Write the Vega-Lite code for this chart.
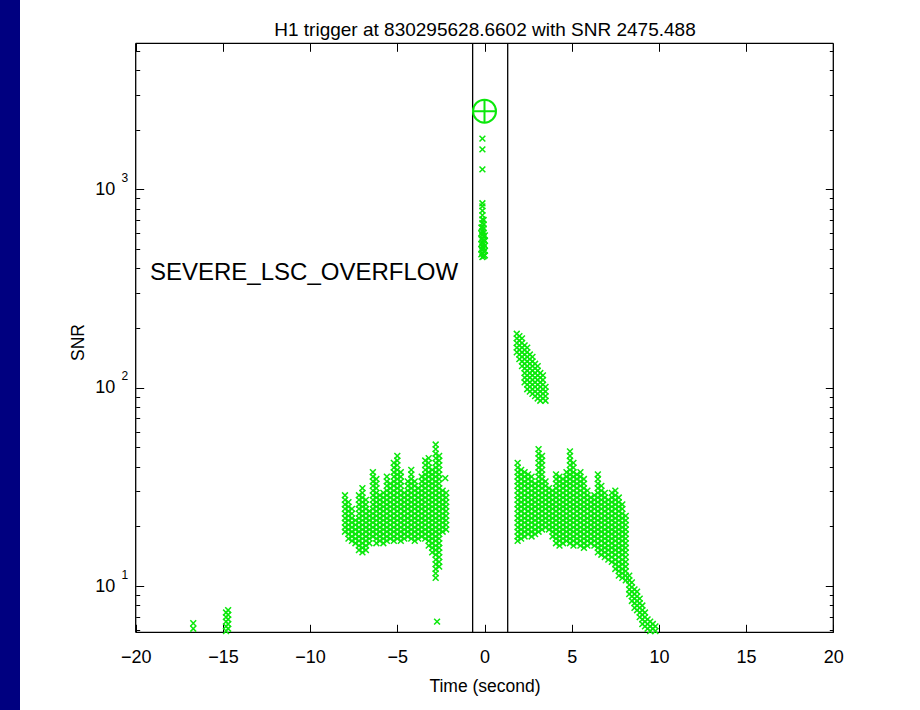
{
  "$schema": "https://vega.github.io/schema/vega-lite/v6.json",
  "width": 900,
  "height": 710,
  "autosize": {"type": "none"},
  "padding": {"left": 20, "top": 0, "right": 0, "bottom": 0},
  "background": "#000080",
  "view": {"fill": "white", "stroke": null},
  "config": {
    "font": "Liberation Sans",
    "axis": {"grid": false, "domain": false, "tickColor": "#000", "labelColor": "#000", "titleColor": "#000", "titleFontWeight": "normal", "labelFontSize": 18, "titleFontSize": 17.5, "tickWidth": 1, "labelFlush": false, "labelOverlap": false}
  },
  "datasets": {
    "pts": [
      {"t":-0.12,"snr":455},{"t":-0.12,"snr":475},{"t":-0.12,"snr":495},{"t":-0.12,"snr":515},{"t":-0.12,"snr":540},{"t":-0.12,"snr":565},{"t":-0.12,"snr":590},{"t":-0.12,"snr":615},{"t":-0.12,"snr":645},{"t":-0.12,"snr":675},{"t":-0.12,"snr":705},{"t":-0.12,"snr":740},{"t":-0.12,"snr":780},{"t":-0.12,"snr":820},{"t":-0.12,"snr":850},
      {"t":-0.05,"snr":460},{"t":-0.05,"snr":485},{"t":-0.05,"snr":505},{"t":-0.05,"snr":530},{"t":-0.05,"snr":555},{"t":-0.05,"snr":580},{"t":-0.05,"snr":605},{"t":-0.05,"snr":635},{"t":-0.05,"snr":665},{"t":-0.05,"snr":700},
      {"t":-0.18,"snr":470},{"t":-0.18,"snr":500},{"t":-0.18,"snr":530},{"t":-0.18,"snr":560},{"t":-0.18,"snr":600},{"t":-0.18,"snr":640},
      {"t":0.02,"snr":465},{"t":0.02,"snr":490},{"t":0.02,"snr":520},{"t":0.02,"snr":550},{"t":0.02,"snr":585},
      {"t":-0.12,"snr":1260},{"t":-0.12,"snr":1590},{"t":-0.12,"snr":1800},
      {"t":-14.82,"snr":5.94},{"t":-14.82,"snr":6.27},{"t":-14.82,"snr":6.62},{"t":-14.82,"snr":6.98},{"t":-14.82,"snr":7.36},
      {"t":-14.7,"snr":6.1},{"t":-14.7,"snr":6.44},{"t":-14.7,"snr":6.8},{"t":-14.7,"snr":7.17},{"t":-14.7,"snr":7.56},
      {"t":-16.7,"snr":6.1},{"t":-16.7,"snr":6.5},
      {"t":-2.72,"snr":6.62},{"t":-2.25,"snr":35.0},
      {"t":-8.0,"snr":18.8},{"t":-8.0,"snr":19.8},{"t":-8.0,"snr":20.9},{"t":-8.0,"snr":22.0},{"t":-8.0,"snr":23.2},{"t":-8.0,"snr":24.5},{"t":-8.0,"snr":25.8},{"t":-8.0,"snr":27.2},{"t":-8.0,"snr":28.7},
      {"t":-7.8,"snr":17.35},{"t":-7.8,"snr":18.3},{"t":-7.8,"snr":19.3},{"t":-7.8,"snr":20.35},{"t":-7.8,"snr":21.45},{"t":-7.8,"snr":22.6},{"t":-7.8,"snr":23.85},{"t":-7.8,"snr":25.15},{"t":-7.8,"snr":26.5},
      {"t":-7.6,"snr":16.9},{"t":-7.6,"snr":17.8},{"t":-7.6,"snr":18.8},{"t":-7.6,"snr":19.8},{"t":-7.6,"snr":20.9},{"t":-7.6,"snr":22.0},{"t":-7.6,"snr":23.2},{"t":-7.6,"snr":24.5},
      {"t":-7.4,"snr":16.45},{"t":-7.4,"snr":17.35},{"t":-7.4,"snr":18.3},{"t":-7.4,"snr":19.3},{"t":-7.4,"snr":20.35},{"t":-7.4,"snr":21.45},
      {"t":-7.2,"snr":15.2},{"t":-7.2,"snr":16.0},{"t":-7.2,"snr":16.9},{"t":-7.2,"snr":17.8},{"t":-7.2,"snr":18.8},{"t":-7.2,"snr":19.8},{"t":-7.2,"snr":20.9},{"t":-7.2,"snr":22.0},{"t":-7.2,"snr":23.2},{"t":-7.2,"snr":24.5},{"t":-7.2,"snr":25.8},{"t":-7.2,"snr":27.2},{"t":-7.2,"snr":28.7},
      {"t":-7.0,"snr":14.8},{"t":-7.0,"snr":15.6},{"t":-7.0,"snr":16.45},{"t":-7.0,"snr":17.35},{"t":-7.0,"snr":18.3},{"t":-7.0,"snr":19.3},{"t":-7.0,"snr":20.35},{"t":-7.0,"snr":21.45},{"t":-7.0,"snr":22.6},{"t":-7.0,"snr":23.85},{"t":-7.0,"snr":25.15},{"t":-7.0,"snr":26.5},{"t":-7.0,"snr":27.95},{"t":-7.0,"snr":29.5},{"t":-7.0,"snr":31.15},
      {"t":-6.8,"snr":15.2},{"t":-6.8,"snr":16.0},{"t":-6.8,"snr":16.9},{"t":-6.8,"snr":17.8},{"t":-6.8,"snr":18.8},{"t":-6.8,"snr":19.8},{"t":-6.8,"snr":20.9},{"t":-6.8,"snr":22.0},{"t":-6.8,"snr":23.2},{"t":-6.8,"snr":24.5},{"t":-6.8,"snr":25.8},{"t":-6.8,"snr":27.2},
      {"t":-6.6,"snr":16.45},{"t":-6.6,"snr":17.35},{"t":-6.6,"snr":18.3},{"t":-6.6,"snr":19.3},{"t":-6.6,"snr":20.35},{"t":-6.6,"snr":21.45},{"t":-6.6,"snr":22.6},{"t":-6.6,"snr":23.85},
      {"t":-6.4,"snr":17.8},{"t":-6.4,"snr":18.8},{"t":-6.4,"snr":19.8},{"t":-6.4,"snr":20.9},{"t":-6.4,"snr":22.0},{"t":-6.4,"snr":23.2},{"t":-6.4,"snr":24.5},{"t":-6.4,"snr":25.8},{"t":-6.4,"snr":27.2},{"t":-6.4,"snr":28.7},{"t":-6.4,"snr":30.3},{"t":-6.4,"snr":32.0},{"t":-6.4,"snr":33.7},{"t":-6.4,"snr":35.6},{"t":-6.4,"snr":37.5},
      {"t":-6.2,"snr":16.45},{"t":-6.2,"snr":17.35},{"t":-6.2,"snr":18.3},{"t":-6.2,"snr":19.3},{"t":-6.2,"snr":20.35},{"t":-6.2,"snr":21.45},{"t":-6.2,"snr":22.6},{"t":-6.2,"snr":23.85},{"t":-6.2,"snr":25.15},{"t":-6.2,"snr":26.5},{"t":-6.2,"snr":27.95},{"t":-6.2,"snr":29.5},{"t":-6.2,"snr":31.15},{"t":-6.2,"snr":32.85},{"t":-6.2,"snr":34.65},
      {"t":-6.0,"snr":16.9},{"t":-6.0,"snr":17.8},{"t":-6.0,"snr":18.8},{"t":-6.0,"snr":19.8},{"t":-6.0,"snr":20.9},{"t":-6.0,"snr":22.0},{"t":-6.0,"snr":23.2},{"t":-6.0,"snr":24.5},{"t":-6.0,"snr":25.8},{"t":-6.0,"snr":27.2},{"t":-6.0,"snr":28.7},
      {"t":-5.8,"snr":16.45},{"t":-5.8,"snr":17.35},{"t":-5.8,"snr":18.3},{"t":-5.8,"snr":19.3},{"t":-5.8,"snr":20.35},{"t":-5.8,"snr":21.45},{"t":-5.8,"snr":22.6},{"t":-5.8,"snr":23.85},{"t":-5.8,"snr":25.15},{"t":-5.8,"snr":26.5},{"t":-5.8,"snr":27.95},{"t":-5.8,"snr":29.5},
      {"t":-5.6,"snr":16.9},{"t":-5.6,"snr":17.8},{"t":-5.6,"snr":18.8},{"t":-5.6,"snr":19.8},{"t":-5.6,"snr":20.9},{"t":-5.6,"snr":22.0},{"t":-5.6,"snr":23.2},{"t":-5.6,"snr":24.5},{"t":-5.6,"snr":25.8},{"t":-5.6,"snr":27.2},{"t":-5.6,"snr":28.7},{"t":-5.6,"snr":30.3},{"t":-5.6,"snr":32.0},{"t":-5.6,"snr":33.7},{"t":-5.6,"snr":35.6},
      {"t":-5.4,"snr":17.35},{"t":-5.4,"snr":18.3},{"t":-5.4,"snr":19.3},{"t":-5.4,"snr":20.35},{"t":-5.4,"snr":21.45},{"t":-5.4,"snr":22.6},{"t":-5.4,"snr":23.85},{"t":-5.4,"snr":25.15},{"t":-5.4,"snr":26.5},{"t":-5.4,"snr":27.95},{"t":-5.4,"snr":29.5},{"t":-5.4,"snr":31.15},{"t":-5.4,"snr":32.85},
      {"t":-5.2,"snr":16.9},{"t":-5.2,"snr":17.8},{"t":-5.2,"snr":18.8},{"t":-5.2,"snr":19.8},{"t":-5.2,"snr":20.9},{"t":-5.2,"snr":22.0},{"t":-5.2,"snr":23.2},{"t":-5.2,"snr":24.5},{"t":-5.2,"snr":25.8},{"t":-5.2,"snr":27.2},{"t":-5.2,"snr":28.7},{"t":-5.2,"snr":30.3},{"t":-5.2,"snr":32.0},{"t":-5.2,"snr":33.7},{"t":-5.2,"snr":35.6},{"t":-5.2,"snr":37.5},{"t":-5.2,"snr":39.6},{"t":-5.2,"snr":41.8},
      {"t":-5.0,"snr":17.35},{"t":-5.0,"snr":18.3},{"t":-5.0,"snr":19.3},{"t":-5.0,"snr":20.35},{"t":-5.0,"snr":21.45},{"t":-5.0,"snr":22.6},{"t":-5.0,"snr":23.85},{"t":-5.0,"snr":25.15},{"t":-5.0,"snr":26.5},{"t":-5.0,"snr":27.95},{"t":-5.0,"snr":29.5},{"t":-5.0,"snr":31.15},{"t":-5.0,"snr":32.85},{"t":-5.0,"snr":34.65},{"t":-5.0,"snr":36.55},{"t":-5.0,"snr":38.55},{"t":-5.0,"snr":40.7},{"t":-5.0,"snr":42.95},{"t":-5.0,"snr":45.3},
      {"t":-4.8,"snr":16.9},{"t":-4.8,"snr":17.8},{"t":-4.8,"snr":18.8},{"t":-4.8,"snr":19.8},{"t":-4.8,"snr":20.9},{"t":-4.8,"snr":22.0},{"t":-4.8,"snr":23.2},{"t":-4.8,"snr":24.5},{"t":-4.8,"snr":25.8},{"t":-4.8,"snr":27.2},{"t":-4.8,"snr":28.7},{"t":-4.8,"snr":30.3},{"t":-4.8,"snr":32.0},{"t":-4.8,"snr":33.7},{"t":-4.8,"snr":35.6},{"t":-4.8,"snr":37.5},
      {"t":-4.6,"snr":17.35},{"t":-4.6,"snr":18.3},{"t":-4.6,"snr":19.3},{"t":-4.6,"snr":20.35},{"t":-4.6,"snr":21.45},{"t":-4.6,"snr":22.6},{"t":-4.6,"snr":23.85},{"t":-4.6,"snr":25.15},{"t":-4.6,"snr":26.5},{"t":-4.6,"snr":27.95},{"t":-4.6,"snr":29.5},
      {"t":-4.4,"snr":17.8},{"t":-4.4,"snr":18.8},{"t":-4.4,"snr":19.8},{"t":-4.4,"snr":20.9},{"t":-4.4,"snr":22.0},{"t":-4.4,"snr":23.2},{"t":-4.4,"snr":24.5},{"t":-4.4,"snr":25.8},{"t":-4.4,"snr":27.2},{"t":-4.4,"snr":28.7},{"t":-4.4,"snr":30.3},{"t":-4.4,"snr":32.0},{"t":-4.4,"snr":33.7},
      {"t":-4.2,"snr":17.35},{"t":-4.2,"snr":18.3},{"t":-4.2,"snr":19.3},{"t":-4.2,"snr":20.35},{"t":-4.2,"snr":21.45},{"t":-4.2,"snr":22.6},{"t":-4.2,"snr":23.85},{"t":-4.2,"snr":25.15},{"t":-4.2,"snr":26.5},{"t":-4.2,"snr":27.95},{"t":-4.2,"snr":29.5},{"t":-4.2,"snr":31.15},{"t":-4.2,"snr":32.85},{"t":-4.2,"snr":34.65},{"t":-4.2,"snr":36.55},{"t":-4.2,"snr":38.55},
      {"t":-4.0,"snr":16.9},{"t":-4.0,"snr":17.8},{"t":-4.0,"snr":18.8},{"t":-4.0,"snr":19.8},{"t":-4.0,"snr":20.9},{"t":-4.0,"snr":22.0},{"t":-4.0,"snr":23.2},{"t":-4.0,"snr":24.5},{"t":-4.0,"snr":25.8},{"t":-4.0,"snr":27.2},{"t":-4.0,"snr":28.7},{"t":-4.0,"snr":30.3},{"t":-4.0,"snr":32.0},{"t":-4.0,"snr":33.7},
      {"t":-3.8,"snr":17.35},{"t":-3.8,"snr":18.3},{"t":-3.8,"snr":19.3},{"t":-3.8,"snr":20.35},{"t":-3.8,"snr":21.45},{"t":-3.8,"snr":22.6},{"t":-3.8,"snr":23.85},{"t":-3.8,"snr":25.15},{"t":-3.8,"snr":26.5},{"t":-3.8,"snr":27.95},{"t":-3.8,"snr":29.5},{"t":-3.8,"snr":31.15},
      {"t":-3.6,"snr":17.8},{"t":-3.6,"snr":18.8},{"t":-3.6,"snr":19.8},{"t":-3.6,"snr":20.9},{"t":-3.6,"snr":22.0},{"t":-3.6,"snr":23.2},{"t":-3.6,"snr":24.5},{"t":-3.6,"snr":25.8},{"t":-3.6,"snr":27.2},{"t":-3.6,"snr":28.7},{"t":-3.6,"snr":30.3},{"t":-3.6,"snr":32.0},{"t":-3.6,"snr":33.7},{"t":-3.6,"snr":35.6},
      {"t":-3.4,"snr":17.35},{"t":-3.4,"snr":18.3},{"t":-3.4,"snr":19.3},{"t":-3.4,"snr":20.35},{"t":-3.4,"snr":21.45},{"t":-3.4,"snr":22.6},{"t":-3.4,"snr":23.85},{"t":-3.4,"snr":25.15},{"t":-3.4,"snr":26.5},{"t":-3.4,"snr":27.95},{"t":-3.4,"snr":29.5},{"t":-3.4,"snr":31.15},{"t":-3.4,"snr":32.85},{"t":-3.4,"snr":34.65},{"t":-3.4,"snr":36.55},{"t":-3.4,"snr":38.55},{"t":-3.4,"snr":40.7},{"t":-3.4,"snr":42.95},
      {"t":-3.2,"snr":16.0},{"t":-3.2,"snr":16.9},{"t":-3.2,"snr":17.8},{"t":-3.2,"snr":18.8},{"t":-3.2,"snr":19.8},{"t":-3.2,"snr":20.9},{"t":-3.2,"snr":22.0},{"t":-3.2,"snr":23.2},{"t":-3.2,"snr":24.5},{"t":-3.2,"snr":25.8},{"t":-3.2,"snr":27.2},{"t":-3.2,"snr":28.7},{"t":-3.2,"snr":30.3},{"t":-3.2,"snr":32.0},{"t":-3.2,"snr":33.7},{"t":-3.2,"snr":35.6},{"t":-3.2,"snr":37.5},{"t":-3.2,"snr":39.6},{"t":-3.2,"snr":41.8},{"t":-3.2,"snr":44.1},
      {"t":-3.0,"snr":14.8},{"t":-3.0,"snr":15.6},{"t":-3.0,"snr":16.45},{"t":-3.0,"snr":17.35},{"t":-3.0,"snr":18.3},{"t":-3.0,"snr":19.3},{"t":-3.0,"snr":20.35},{"t":-3.0,"snr":21.45},{"t":-3.0,"snr":22.6},{"t":-3.0,"snr":23.85},{"t":-3.0,"snr":25.15},{"t":-3.0,"snr":26.5},{"t":-3.0,"snr":27.95},{"t":-3.0,"snr":29.5},{"t":-3.0,"snr":31.15},{"t":-3.0,"snr":32.85},{"t":-3.0,"snr":34.65},{"t":-3.0,"snr":36.55},{"t":-3.0,"snr":38.55},
      {"t":-2.8,"snr":11.0},{"t":-2.8,"snr":11.6},{"t":-2.8,"snr":12.2},{"t":-2.8,"snr":12.9},{"t":-2.8,"snr":13.6},{"t":-2.8,"snr":14.4},{"t":-2.8,"snr":15.2},{"t":-2.8,"snr":16.0},{"t":-2.8,"snr":16.9},{"t":-2.8,"snr":17.8},{"t":-2.8,"snr":18.8},{"t":-2.8,"snr":19.8},{"t":-2.8,"snr":20.9},{"t":-2.8,"snr":22.0},{"t":-2.8,"snr":23.2},{"t":-2.8,"snr":24.5},{"t":-2.8,"snr":25.8},{"t":-2.8,"snr":27.2},{"t":-2.8,"snr":28.7},{"t":-2.8,"snr":30.3},{"t":-2.8,"snr":32.0},{"t":-2.8,"snr":33.7},{"t":-2.8,"snr":35.6},{"t":-2.8,"snr":37.5},{"t":-2.8,"snr":39.6},{"t":-2.8,"snr":41.8},{"t":-2.8,"snr":44.1},{"t":-2.8,"snr":46.5},{"t":-2.8,"snr":49.0},{"t":-2.8,"snr":51.7},
      {"t":-2.6,"snr":12.55},{"t":-2.6,"snr":13.25},{"t":-2.6,"snr":14.0},{"t":-2.6,"snr":14.8},{"t":-2.6,"snr":15.6},{"t":-2.6,"snr":16.45},{"t":-2.6,"snr":17.35},{"t":-2.6,"snr":18.3},{"t":-2.6,"snr":19.3},{"t":-2.6,"snr":20.35},{"t":-2.6,"snr":21.45},{"t":-2.6,"snr":22.6},{"t":-2.6,"snr":23.85},{"t":-2.6,"snr":25.15},{"t":-2.6,"snr":26.5},{"t":-2.6,"snr":27.95},{"t":-2.6,"snr":29.5},{"t":-2.6,"snr":31.15},{"t":-2.6,"snr":32.85},{"t":-2.6,"snr":34.65},{"t":-2.6,"snr":36.55},{"t":-2.6,"snr":38.55},{"t":-2.6,"snr":40.7},{"t":-2.6,"snr":42.95},{"t":-2.6,"snr":45.3},
      {"t":-2.4,"snr":18.8},{"t":-2.4,"snr":19.8},{"t":-2.4,"snr":20.9},{"t":-2.4,"snr":22.0},{"t":-2.4,"snr":23.2},{"t":-2.4,"snr":24.5},{"t":-2.4,"snr":25.8},{"t":-2.4,"snr":27.2},{"t":-2.4,"snr":28.7},{"t":-2.4,"snr":30.3},
      {"t":-2.2,"snr":19.3},{"t":-2.2,"snr":20.35},{"t":-2.2,"snr":21.45},{"t":-2.2,"snr":22.6},{"t":-2.2,"snr":23.85},{"t":-2.2,"snr":25.15},{"t":-2.2,"snr":26.5},{"t":-2.2,"snr":27.95},{"t":-2.2,"snr":29.5},
      {"t":1.85,"snr":150.9},{"t":1.85,"snr":159.2},{"t":1.85,"snr":168},{"t":1.85,"snr":177.2},{"t":1.85,"snr":187},
      {"t":2.0,"snr":139.3},{"t":2.0,"snr":147},{"t":2.0,"snr":155},{"t":2.0,"snr":163.5},{"t":2.0,"snr":172.5},{"t":2.0,"snr":182},
      {"t":2.15,"snr":128.5},{"t":2.15,"snr":135.6},{"t":2.15,"snr":143},{"t":2.15,"snr":150.9},{"t":2.15,"snr":159.2},{"t":2.15,"snr":168},{"t":2.15,"snr":177.2},
      {"t":2.3,"snr":106.5},{"t":2.3,"snr":112.4},{"t":2.3,"snr":118.6},{"t":2.3,"snr":125.1},{"t":2.3,"snr":132},{"t":2.3,"snr":139.3},{"t":2.3,"snr":147},{"t":2.3,"snr":155},{"t":2.3,"snr":163.5},
      {"t":2.45,"snr":98.3},{"t":2.45,"snr":103.7},{"t":2.45,"snr":109.4},{"t":2.45,"snr":115.4},{"t":2.45,"snr":121.8},{"t":2.45,"snr":128.5},{"t":2.45,"snr":135.6},{"t":2.45,"snr":143},{"t":2.45,"snr":150.9},{"t":2.45,"snr":159.2},
      {"t":2.6,"snr":95.7},{"t":2.6,"snr":101},{"t":2.6,"snr":106.5},{"t":2.6,"snr":112.4},{"t":2.6,"snr":118.6},{"t":2.6,"snr":125.1},{"t":2.6,"snr":132},{"t":2.6,"snr":139.3},{"t":2.6,"snr":147},
      {"t":2.75,"snr":93.2},{"t":2.75,"snr":98.3},{"t":2.75,"snr":103.7},{"t":2.75,"snr":109.4},{"t":2.75,"snr":115.4},{"t":2.75,"snr":121.8},{"t":2.75,"snr":128.5},{"t":2.75,"snr":135.6},{"t":2.75,"snr":143},
      {"t":2.9,"snr":90.7},{"t":2.9,"snr":95.7},{"t":2.9,"snr":101},{"t":2.9,"snr":106.5},{"t":2.9,"snr":112.4},{"t":2.9,"snr":118.6},{"t":2.9,"snr":125.1},{"t":2.9,"snr":132},
      {"t":3.05,"snr":88.3},{"t":3.05,"snr":93.2},{"t":3.05,"snr":98.3},{"t":3.05,"snr":103.7},{"t":3.05,"snr":109.4},{"t":3.05,"snr":115.4},{"t":3.05,"snr":121.8},{"t":3.05,"snr":128.5},
      {"t":3.2,"snr":86},{"t":3.2,"snr":90.7},{"t":3.2,"snr":95.7},{"t":3.2,"snr":101},{"t":3.2,"snr":106.5},{"t":3.2,"snr":112.4},{"t":3.2,"snr":118.6},
      {"t":3.35,"snr":88.3},{"t":3.35,"snr":93.2},{"t":3.35,"snr":98.3},{"t":3.35,"snr":103.7},{"t":3.35,"snr":109.4},{"t":3.35,"snr":115.4},
      {"t":3.5,"snr":86},{"t":3.5,"snr":90.7},{"t":3.5,"snr":95.7},{"t":3.5,"snr":101},
      {"t":1.9,"snr":16.9},{"t":1.9,"snr":17.8},{"t":1.9,"snr":18.8},{"t":1.9,"snr":19.8},{"t":1.9,"snr":20.9},{"t":1.9,"snr":22.0},{"t":1.9,"snr":23.2},{"t":1.9,"snr":24.5},{"t":1.9,"snr":25.8},{"t":1.9,"snr":27.2},{"t":1.9,"snr":28.7},{"t":1.9,"snr":30.3},{"t":1.9,"snr":32.0},{"t":1.9,"snr":33.7},{"t":1.9,"snr":35.6},{"t":1.9,"snr":37.5},{"t":1.9,"snr":39.6},{"t":1.9,"snr":41.8},
      {"t":2.1,"snr":17.35},{"t":2.1,"snr":18.3},{"t":2.1,"snr":19.3},{"t":2.1,"snr":20.35},{"t":2.1,"snr":21.45},{"t":2.1,"snr":22.6},{"t":2.1,"snr":23.85},{"t":2.1,"snr":25.15},{"t":2.1,"snr":26.5},{"t":2.1,"snr":27.95},{"t":2.1,"snr":29.5},{"t":2.1,"snr":31.15},{"t":2.1,"snr":32.85},{"t":2.1,"snr":34.65},{"t":2.1,"snr":36.55},{"t":2.1,"snr":38.55},
      {"t":2.3,"snr":17.8},{"t":2.3,"snr":18.8},{"t":2.3,"snr":19.8},{"t":2.3,"snr":20.9},{"t":2.3,"snr":22.0},{"t":2.3,"snr":23.2},{"t":2.3,"snr":24.5},{"t":2.3,"snr":25.8},{"t":2.3,"snr":27.2},{"t":2.3,"snr":28.7},{"t":2.3,"snr":30.3},{"t":2.3,"snr":32.0},{"t":2.3,"snr":33.7},{"t":2.3,"snr":35.6},{"t":2.3,"snr":37.5},
      {"t":2.5,"snr":18.3},{"t":2.5,"snr":19.3},{"t":2.5,"snr":20.35},{"t":2.5,"snr":21.45},{"t":2.5,"snr":22.6},{"t":2.5,"snr":23.85},{"t":2.5,"snr":25.15},{"t":2.5,"snr":26.5},{"t":2.5,"snr":27.95},{"t":2.5,"snr":29.5},{"t":2.5,"snr":31.15},{"t":2.5,"snr":32.85},{"t":2.5,"snr":34.65},{"t":2.5,"snr":36.55},
      {"t":2.7,"snr":17.8},{"t":2.7,"snr":18.8},{"t":2.7,"snr":19.8},{"t":2.7,"snr":20.9},{"t":2.7,"snr":22.0},{"t":2.7,"snr":23.2},{"t":2.7,"snr":24.5},{"t":2.7,"snr":25.8},{"t":2.7,"snr":27.2},{"t":2.7,"snr":28.7},{"t":2.7,"snr":30.3},{"t":2.7,"snr":32.0},{"t":2.7,"snr":33.7},{"t":2.7,"snr":35.6},
      {"t":2.9,"snr":18.3},{"t":2.9,"snr":19.3},{"t":2.9,"snr":20.35},{"t":2.9,"snr":21.45},{"t":2.9,"snr":22.6},{"t":2.9,"snr":23.85},{"t":2.9,"snr":25.15},{"t":2.9,"snr":26.5},{"t":2.9,"snr":27.95},{"t":2.9,"snr":29.5},{"t":2.9,"snr":31.15},{"t":2.9,"snr":32.85},
      {"t":3.1,"snr":18.8},{"t":3.1,"snr":19.8},{"t":3.1,"snr":20.9},{"t":3.1,"snr":22.0},{"t":3.1,"snr":23.2},{"t":3.1,"snr":24.5},{"t":3.1,"snr":25.8},{"t":3.1,"snr":27.2},{"t":3.1,"snr":28.7},{"t":3.1,"snr":30.3},{"t":3.1,"snr":32.0},{"t":3.1,"snr":33.7},{"t":3.1,"snr":35.6},{"t":3.1,"snr":37.5},{"t":3.1,"snr":39.6},{"t":3.1,"snr":41.8},{"t":3.1,"snr":44.1},{"t":3.1,"snr":46.5},{"t":3.1,"snr":49.0},
      {"t":3.3,"snr":19.3},{"t":3.3,"snr":20.35},{"t":3.3,"snr":21.45},{"t":3.3,"snr":22.6},{"t":3.3,"snr":23.85},{"t":3.3,"snr":25.15},{"t":3.3,"snr":26.5},{"t":3.3,"snr":27.95},{"t":3.3,"snr":29.5},{"t":3.3,"snr":31.15},{"t":3.3,"snr":32.85},{"t":3.3,"snr":34.65},{"t":3.3,"snr":36.55},{"t":3.3,"snr":38.55},{"t":3.3,"snr":40.7},{"t":3.3,"snr":42.95},{"t":3.3,"snr":45.3},
      {"t":3.5,"snr":19.8},{"t":3.5,"snr":20.9},{"t":3.5,"snr":22.0},{"t":3.5,"snr":23.2},{"t":3.5,"snr":24.5},{"t":3.5,"snr":25.8},{"t":3.5,"snr":27.2},{"t":3.5,"snr":28.7},{"t":3.5,"snr":30.3},{"t":3.5,"snr":32.0},{"t":3.5,"snr":33.7},
      {"t":3.7,"snr":19.3},{"t":3.7,"snr":20.35},{"t":3.7,"snr":21.45},{"t":3.7,"snr":22.6},{"t":3.7,"snr":23.85},{"t":3.7,"snr":25.15},{"t":3.7,"snr":26.5},{"t":3.7,"snr":27.95},{"t":3.7,"snr":29.5},{"t":3.7,"snr":31.15},
      {"t":3.9,"snr":17.8},{"t":3.9,"snr":18.8},{"t":3.9,"snr":19.8},{"t":3.9,"snr":20.9},{"t":3.9,"snr":22.0},{"t":3.9,"snr":23.2},{"t":3.9,"snr":24.5},{"t":3.9,"snr":25.8},{"t":3.9,"snr":27.2},{"t":3.9,"snr":28.7},{"t":3.9,"snr":30.3},
      {"t":4.1,"snr":16.45},{"t":4.1,"snr":17.35},{"t":4.1,"snr":18.3},{"t":4.1,"snr":19.3},{"t":4.1,"snr":20.35},{"t":4.1,"snr":21.45},{"t":4.1,"snr":22.6},{"t":4.1,"snr":23.85},{"t":4.1,"snr":25.15},{"t":4.1,"snr":26.5},{"t":4.1,"snr":27.95},{"t":4.1,"snr":29.5},{"t":4.1,"snr":31.15},{"t":4.1,"snr":32.85},{"t":4.1,"snr":34.65},{"t":4.1,"snr":36.55},
      {"t":4.3,"snr":16.0},{"t":4.3,"snr":16.9},{"t":4.3,"snr":17.8},{"t":4.3,"snr":18.8},{"t":4.3,"snr":19.8},{"t":4.3,"snr":20.9},{"t":4.3,"snr":22.0},{"t":4.3,"snr":23.2},{"t":4.3,"snr":24.5},{"t":4.3,"snr":25.8},{"t":4.3,"snr":27.2},{"t":4.3,"snr":28.7},{"t":4.3,"snr":30.3},{"t":4.3,"snr":32.0},{"t":4.3,"snr":33.7},{"t":4.3,"snr":35.6},
      {"t":4.5,"snr":16.45},{"t":4.5,"snr":17.35},{"t":4.5,"snr":18.3},{"t":4.5,"snr":19.3},{"t":4.5,"snr":20.35},{"t":4.5,"snr":21.45},{"t":4.5,"snr":22.6},{"t":4.5,"snr":23.85},{"t":4.5,"snr":25.15},{"t":4.5,"snr":26.5},{"t":4.5,"snr":27.95},{"t":4.5,"snr":29.5},{"t":4.5,"snr":31.15},{"t":4.5,"snr":32.85},{"t":4.5,"snr":34.65},
      {"t":4.7,"snr":16.9},{"t":4.7,"snr":17.8},{"t":4.7,"snr":18.8},{"t":4.7,"snr":19.8},{"t":4.7,"snr":20.9},{"t":4.7,"snr":22.0},{"t":4.7,"snr":23.2},{"t":4.7,"snr":24.5},{"t":4.7,"snr":25.8},{"t":4.7,"snr":27.2},{"t":4.7,"snr":28.7},{"t":4.7,"snr":30.3},{"t":4.7,"snr":32.0},{"t":4.7,"snr":33.7},{"t":4.7,"snr":35.6},{"t":4.7,"snr":37.5},
      {"t":4.9,"snr":16.45},{"t":4.9,"snr":17.35},{"t":4.9,"snr":18.3},{"t":4.9,"snr":19.3},{"t":4.9,"snr":20.35},{"t":4.9,"snr":21.45},{"t":4.9,"snr":22.6},{"t":4.9,"snr":23.85},{"t":4.9,"snr":25.15},{"t":4.9,"snr":26.5},{"t":4.9,"snr":27.95},{"t":4.9,"snr":29.5},{"t":4.9,"snr":31.15},{"t":4.9,"snr":32.85},{"t":4.9,"snr":34.65},{"t":4.9,"snr":36.55},{"t":4.9,"snr":38.55},{"t":4.9,"snr":40.7},{"t":4.9,"snr":42.95},{"t":4.9,"snr":45.3},{"t":4.9,"snr":47.75},
      {"t":5.1,"snr":16.0},{"t":5.1,"snr":16.9},{"t":5.1,"snr":17.8},{"t":5.1,"snr":18.8},{"t":5.1,"snr":19.8},{"t":5.1,"snr":20.9},{"t":5.1,"snr":22.0},{"t":5.1,"snr":23.2},{"t":5.1,"snr":24.5},{"t":5.1,"snr":25.8},{"t":5.1,"snr":27.2},{"t":5.1,"snr":28.7},{"t":5.1,"snr":30.3},{"t":5.1,"snr":32.0},{"t":5.1,"snr":33.7},{"t":5.1,"snr":35.6},{"t":5.1,"snr":37.5},{"t":5.1,"snr":39.6},{"t":5.1,"snr":41.8},
      {"t":5.3,"snr":16.45},{"t":5.3,"snr":17.35},{"t":5.3,"snr":18.3},{"t":5.3,"snr":19.3},{"t":5.3,"snr":20.35},{"t":5.3,"snr":21.45},{"t":5.3,"snr":22.6},{"t":5.3,"snr":23.85},{"t":5.3,"snr":25.15},{"t":5.3,"snr":26.5},{"t":5.3,"snr":27.95},{"t":5.3,"snr":29.5},{"t":5.3,"snr":31.15},{"t":5.3,"snr":32.85},{"t":5.3,"snr":34.65},{"t":5.3,"snr":36.55},
      {"t":5.5,"snr":16.0},{"t":5.5,"snr":16.9},{"t":5.5,"snr":17.8},{"t":5.5,"snr":18.8},{"t":5.5,"snr":19.8},{"t":5.5,"snr":20.9},{"t":5.5,"snr":22.0},{"t":5.5,"snr":23.2},{"t":5.5,"snr":24.5},{"t":5.5,"snr":25.8},{"t":5.5,"snr":27.2},{"t":5.5,"snr":28.7},{"t":5.5,"snr":30.3},{"t":5.5,"snr":32.0},{"t":5.5,"snr":33.7},{"t":5.5,"snr":35.6},{"t":5.5,"snr":37.5},
      {"t":5.7,"snr":15.6},{"t":5.7,"snr":16.45},{"t":5.7,"snr":17.35},{"t":5.7,"snr":18.3},{"t":5.7,"snr":19.3},{"t":5.7,"snr":20.35},{"t":5.7,"snr":21.45},{"t":5.7,"snr":22.6},{"t":5.7,"snr":23.85},{"t":5.7,"snr":25.15},{"t":5.7,"snr":26.5},{"t":5.7,"snr":27.95},{"t":5.7,"snr":29.5},{"t":5.7,"snr":31.15},{"t":5.7,"snr":32.85},{"t":5.7,"snr":34.65},
      {"t":5.9,"snr":16.0},{"t":5.9,"snr":16.9},{"t":5.9,"snr":17.8},{"t":5.9,"snr":18.8},{"t":5.9,"snr":19.8},{"t":5.9,"snr":20.9},{"t":5.9,"snr":22.0},{"t":5.9,"snr":23.2},{"t":5.9,"snr":24.5},{"t":5.9,"snr":25.8},{"t":5.9,"snr":27.2},{"t":5.9,"snr":28.7},{"t":5.9,"snr":30.3},
      {"t":6.1,"snr":16.45},{"t":6.1,"snr":17.35},{"t":6.1,"snr":18.3},{"t":6.1,"snr":19.3},{"t":6.1,"snr":20.35},{"t":6.1,"snr":21.45},{"t":6.1,"snr":22.6},{"t":6.1,"snr":23.85},{"t":6.1,"snr":25.15},{"t":6.1,"snr":26.5},{"t":6.1,"snr":27.95},
      {"t":6.3,"snr":16.0},{"t":6.3,"snr":16.9},{"t":6.3,"snr":17.8},{"t":6.3,"snr":18.8},{"t":6.3,"snr":19.8},{"t":6.3,"snr":20.9},{"t":6.3,"snr":22.0},{"t":6.3,"snr":23.2},{"t":6.3,"snr":24.5},{"t":6.3,"snr":25.8},{"t":6.3,"snr":27.2},{"t":6.3,"snr":28.7},
      {"t":6.5,"snr":14.8},{"t":6.5,"snr":15.6},{"t":6.5,"snr":16.45},{"t":6.5,"snr":17.35},{"t":6.5,"snr":18.3},{"t":6.5,"snr":19.3},{"t":6.5,"snr":20.35},{"t":6.5,"snr":21.45},{"t":6.5,"snr":22.6},{"t":6.5,"snr":23.85},{"t":6.5,"snr":25.15},{"t":6.5,"snr":26.5},{"t":6.5,"snr":27.95},{"t":6.5,"snr":29.5},{"t":6.5,"snr":31.15},{"t":6.5,"snr":32.85},{"t":6.5,"snr":34.65},{"t":6.5,"snr":36.55},
      {"t":6.7,"snr":14.4},{"t":6.7,"snr":15.2},{"t":6.7,"snr":16.0},{"t":6.7,"snr":16.9},{"t":6.7,"snr":17.8},{"t":6.7,"snr":18.8},{"t":6.7,"snr":19.8},{"t":6.7,"snr":20.9},{"t":6.7,"snr":22.0},{"t":6.7,"snr":23.2},{"t":6.7,"snr":24.5},{"t":6.7,"snr":25.8},{"t":6.7,"snr":27.2},{"t":6.7,"snr":28.7},{"t":6.7,"snr":30.3},{"t":6.7,"snr":32.0},
      {"t":6.9,"snr":14.0},{"t":6.9,"snr":14.8},{"t":6.9,"snr":15.6},{"t":6.9,"snr":16.45},{"t":6.9,"snr":17.35},{"t":6.9,"snr":18.3},{"t":6.9,"snr":19.3},{"t":6.9,"snr":20.35},{"t":6.9,"snr":21.45},{"t":6.9,"snr":22.6},{"t":6.9,"snr":23.85},{"t":6.9,"snr":25.15},{"t":6.9,"snr":26.5},{"t":6.9,"snr":27.95},{"t":6.9,"snr":29.5},
      {"t":7.1,"snr":13.6},{"t":7.1,"snr":14.4},{"t":7.1,"snr":15.2},{"t":7.1,"snr":16.0},{"t":7.1,"snr":16.9},{"t":7.1,"snr":17.8},{"t":7.1,"snr":18.8},{"t":7.1,"snr":19.8},{"t":7.1,"snr":20.9},{"t":7.1,"snr":22.0},{"t":7.1,"snr":23.2},{"t":7.1,"snr":24.5},{"t":7.1,"snr":25.8},{"t":7.1,"snr":27.2},
      {"t":7.3,"snr":13.25},{"t":7.3,"snr":14.0},{"t":7.3,"snr":14.8},{"t":7.3,"snr":15.6},{"t":7.3,"snr":16.45},{"t":7.3,"snr":17.35},{"t":7.3,"snr":18.3},{"t":7.3,"snr":19.3},{"t":7.3,"snr":20.35},{"t":7.3,"snr":21.45},{"t":7.3,"snr":22.6},{"t":7.3,"snr":23.85},{"t":7.3,"snr":25.15},{"t":7.3,"snr":26.5},{"t":7.3,"snr":27.95},{"t":7.3,"snr":29.5},
      {"t":7.5,"snr":12.2},{"t":7.5,"snr":12.9},{"t":7.5,"snr":13.6},{"t":7.5,"snr":14.4},{"t":7.5,"snr":15.2},{"t":7.5,"snr":16.0},{"t":7.5,"snr":16.9},{"t":7.5,"snr":17.8},{"t":7.5,"snr":18.8},{"t":7.5,"snr":19.8},{"t":7.5,"snr":20.9},{"t":7.5,"snr":22.0},{"t":7.5,"snr":23.2},{"t":7.5,"snr":24.5},{"t":7.5,"snr":25.8},{"t":7.5,"snr":27.2},{"t":7.5,"snr":28.7},{"t":7.5,"snr":30.3},
      {"t":7.7,"snr":11.3},{"t":7.7,"snr":11.9},{"t":7.7,"snr":12.55},{"t":7.7,"snr":13.25},{"t":7.7,"snr":14.0},{"t":7.7,"snr":14.8},{"t":7.7,"snr":15.6},{"t":7.7,"snr":16.45},{"t":7.7,"snr":17.35},{"t":7.7,"snr":18.3},{"t":7.7,"snr":19.3},{"t":7.7,"snr":20.35},{"t":7.7,"snr":21.45},{"t":7.7,"snr":22.6},{"t":7.7,"snr":23.85},{"t":7.7,"snr":25.15},{"t":7.7,"snr":26.5},{"t":7.7,"snr":27.95},
      {"t":7.9,"snr":11.0},{"t":7.9,"snr":11.6},{"t":7.9,"snr":12.2},{"t":7.9,"snr":12.9},{"t":7.9,"snr":13.6},{"t":7.9,"snr":14.4},{"t":7.9,"snr":15.2},{"t":7.9,"snr":16.0},{"t":7.9,"snr":16.9},{"t":7.9,"snr":17.8},{"t":7.9,"snr":18.8},{"t":7.9,"snr":19.8},{"t":7.9,"snr":20.9},{"t":7.9,"snr":22.0},{"t":7.9,"snr":23.2},{"t":7.9,"snr":24.5},{"t":7.9,"snr":25.8},
      {"t":8.1,"snr":10.7},{"t":8.1,"snr":11.3},{"t":8.1,"snr":11.9},{"t":8.1,"snr":12.55},{"t":8.1,"snr":13.25},{"t":8.1,"snr":14.0},{"t":8.1,"snr":14.8},{"t":8.1,"snr":15.6},{"t":8.1,"snr":16.45},{"t":8.1,"snr":17.35},{"t":8.1,"snr":18.3},{"t":8.1,"snr":19.3},{"t":8.1,"snr":20.35},{"t":8.1,"snr":21.45},{"t":8.1,"snr":22.6},
      {"t":8.3,"snr":9.12},{"t":8.3,"snr":9.62},{"t":8.3,"snr":10.15},{"t":8.3,"snr":10.7},{"t":8.3,"snr":11.3},
      {"t":8.45,"snr":8.42},{"t":8.45,"snr":8.88},{"t":8.45,"snr":9.37},{"t":8.45,"snr":9.88},{"t":8.45,"snr":10.43},
      {"t":8.6,"snr":7.77},{"t":8.6,"snr":8.2},{"t":8.6,"snr":8.65},{"t":8.6,"snr":9.12},{"t":8.6,"snr":9.62},
      {"t":8.75,"snr":7.56},{"t":8.75,"snr":7.98},{"t":8.75,"snr":8.42},{"t":8.75,"snr":8.88},{"t":8.75,"snr":9.37},
      {"t":8.9,"snr":6.98},{"t":8.9,"snr":7.36},{"t":8.9,"snr":7.77},{"t":8.9,"snr":8.2},{"t":8.9,"snr":8.65},
      {"t":9.05,"snr":6.44},{"t":9.05,"snr":6.8},{"t":9.05,"snr":7.17},{"t":9.05,"snr":7.56},{"t":9.05,"snr":7.98},
      {"t":9.2,"snr":6.27},{"t":9.2,"snr":6.62},{"t":9.2,"snr":6.98},{"t":9.2,"snr":7.36},
      {"t":9.35,"snr":6.1},{"t":9.35,"snr":6.44},{"t":9.35,"snr":6.8},
      {"t":9.5,"snr":5.94},{"t":9.5,"snr":6.27},{"t":9.5,"snr":6.62},
      {"t":9.65,"snr":6.1},{"t":9.65,"snr":6.44},
      {"t":9.8,"snr":5.94},{"t":9.8,"snr":6.27}
    ],
    "trig": [{"t": 0, "snr": 2475.488}],
    "veto": [{"t": -0.68}, {"t": 1.33}],
    "note": [{"t": -19.18, "snr": 378.6, "label": "SEVERE_LSC_OVERFLOW"}]
  },
  "layer": [
    {
      "data": {"values": [{}]},
      "mark": {"type": "rule", "color": "#000", "strokeWidth": 1.3},
      "encoding": {
        "x": {"datum": -20, "type": "quantitative", "scale": {"domain": [-26.634, 24.971], "nice": false, "zero": false}, "axis": null},
        "x2": {"datum": 20},
        "y": {"datum": 5.84, "type": "quantitative", "scale": {"type": "log", "domain": [2.375, 8996], "nice": false}, "axis": null}
      }
    },
    {
      "data": {"values": [{}]},
      "mark": {"type": "rule", "color": "#000", "strokeWidth": 1.3},
      "encoding": {
        "x": {"datum": -20, "type": "quantitative", "axis": null},
        "x2": {"datum": 20},
        "y": {"datum": 5443, "type": "quantitative", "axis": null}
      }
    },
    {
      "data": {"values": [{}]},
      "mark": {"type": "rule", "color": "#000", "strokeWidth": 1.3},
      "encoding": {
        "x": {"datum": -20, "type": "quantitative", "axis": null},
        "y": {"datum": 5.84, "type": "quantitative", "axis": null},
        "y2": {"datum": 5443}
      }
    },
    {
      "data": {"values": [{}]},
      "mark": {"type": "rule", "color": "#000", "strokeWidth": 1.3},
      "encoding": {
        "x": {"datum": 20, "type": "quantitative", "axis": null},
        "y": {"datum": 5.84, "type": "quantitative", "axis": null},
        "y2": {"datum": 5443}
      }
    },
    {
      "data": {"name": "veto"},
      "mark": {"type": "rule", "color": "#000", "strokeWidth": 1.3},
      "encoding": {
        "x": {"field": "t", "type": "quantitative", "axis": null},
        "y": {"datum": 5.84, "type": "quantitative", "axis": null},
        "y2": {"datum": 5443}
      }
    },
    {
      "data": {"name": "pts"},
      "mark": {"type": "point", "shape": "M-1,-1L1,1M1,-1L-1,1", "size": 34, "strokeWidth": 1.5, "filled": false, "color": "#0be80b", "opacity": 1},
      "encoding": {
        "x": {"field": "t", "type": "quantitative", "scale": {"domain": [-26.634, 24.971], "nice": false, "zero": false},
          "axis": {"orient": "bottom", "offset": -77.7, "values": [-20, -15, -10, -5, 0, 5, 10, 15, 20], "ticks": false, "labelPadding": 16, "title": "Time (second)", "titlePadding": 11, "titleX": 464.5}},
        "y": {"field": "snr", "type": "quantitative", "scale": {"type": "log", "domain": [2.375, 8996], "nice": false},
          "axis": {"orient": "left", "offset": -115.7, "values": [10, 100, 1000], "ticks": false, "labelPadding": 21, "labelExpr": "'10'", "title": "SNR", "titlePadding": 7, "titleY": 342}}
      }
    },
    {
      "data": {"name": "trig"},
      "mark": {"type": "point", "shape": "circle", "size": 529, "strokeWidth": 2, "filled": false, "color": "#0be80b", "opacity": 1},
      "encoding": {
        "x": {"field": "t", "type": "quantitative",
          "axis": {"orient": "bottom", "offset": -77.7, "values": [-20, -15, -10, -5, 0, 5, 10, 15, 20], "labels": false, "tickSize": -8, "title": null}},
        "y": {"field": "snr", "type": "quantitative",
          "axis": {"orient": "left", "offset": -115.7, "values": [6, 7, 8, 9, 10, 20, 30, 40, 50, 60, 70, 80, 90, 100, 200, 300, 400, 500, 600, 700, 800, 900, 1000, 2000, 3000, 4000, 5000], "labels": false, "tickSize": {"condition": {"test": "datum.value == 10 || datum.value == 100 || datum.value == 1000", "value": -8}, "value": -4}, "title": null}}
      }
    },
    {
      "data": {"name": "trig"},
      "mark": {"type": "point", "shape": "M-1,0L1,0M0,-1L0,1", "size": 529, "strokeWidth": 2, "filled": false, "color": "#0be80b", "opacity": 1},
      "encoding": {
        "x": {"field": "t", "type": "quantitative",
          "axis": {"orient": "top", "offset": -43.3, "values": [-20, -15, -10, -5, 0, 5, 10, 15, 20], "labels": false, "tickSize": -8, "title": "H1 trigger at 830295628.6602 with SNR 2475.488", "titleFontSize": 19, "titlePadding": 3, "titleX": 464.5}},
        "y": {"field": "snr", "type": "quantitative",
          "axis": {"orient": "right", "offset": -86.7, "values": [6, 7, 8, 9, 10, 20, 30, 40, 50, 60, 70, 80, 90, 100, 200, 300, 400, 500, 600, 700, 800, 900, 1000, 2000, 3000, 4000, 5000], "labels": false, "tickSize": {"condition": {"test": "datum.value == 10 || datum.value == 100 || datum.value == 1000", "value": -8}, "value": -4}, "title": null}}
      }
    },
    {
      "data": {"name": "note"},
      "mark": {"type": "text", "align": "left", "baseline": "middle", "fontSize": 24, "color": "#000"},
      "encoding": {
        "x": {"field": "t", "type": "quantitative", "axis": null},
        "y": {"field": "snr", "type": "quantitative",
          "axis": {"orient": "left", "offset": -115.7, "values": [10, 100, 1000], "ticks": false, "labelPadding": 8, "labelFontSize": 12, "labelOffset": -12, "labelExpr": "datum.value == 1000 ? '3' : datum.value == 100 ? '2' : '1'", "title": null}},
        "text": {"field": "label"}
      }
    }
  ],
  "resolve": {"axis": {"x": "independent", "y": "independent"}}
}
